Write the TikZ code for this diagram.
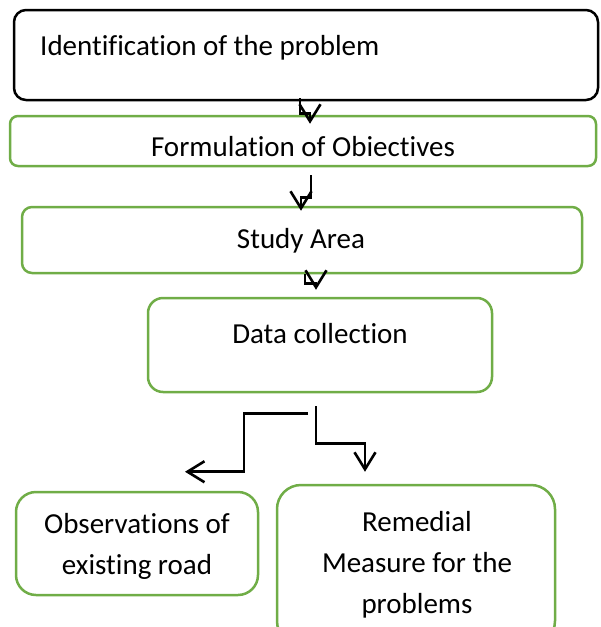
\documentclass[tikz,border=0pt]{standalone}
\usepackage{fontspec}
\setmainfont{Carlito}[Ligatures=NoCommon]
\usetikzlibrary{arrows.meta}
\definecolor{boxgreen}{HTML}{70AD47}
\tikzset{
	stepbox/.style={draw=boxgreen, line width=2.5pt, inner sep=0pt, rounded corners=#1},
	steptext/.style={font=\fontsize{29}{41}\selectfont, inner sep=0pt, anchor=base, align=center},
	flow/.style={line width=2.6pt, -{Straight Barb[length=17pt,width=21pt,line width=2.6pt]}}
}
\begin{document}
\begin{tikzpicture}[x=1pt,y=-1pt]
			\useasboundingbox (0,0) rectangle (601,627);
			\clip (0,0) rectangle (601,627);
			% boxes
			\node[stepbox=12pt, draw=black, minimum width=584pt, minimum height=90pt] (ident) at (306,55) {};
			\node[stepbox=8pt, minimum width=586pt, minimum height=50pt] (obj) at (303,141) {};
			\node[stepbox=10pt, minimum width=560pt, minimum height=66pt] (study) at (302,240) {};
			\node[stepbox=15pt, minimum width=344pt, minimum height=94pt] (data) at (320,345) {};
			\node[stepbox=20pt, minimum width=242pt, minimum height=103pt] (obs) at (137,543.5) {};
			\node[stepbox=24pt, minimum width=278pt, minimum height=160pt] (remedy) at (416,565) {};
			% texts (base = last line)
			\node[steptext, anchor=base west] (identtext) at (40,55) {Identification of the problem};
			\node[steptext] (objtext) at (303,156) {Formulation of Obiectives};
			\node[steptext] (studytext) at (301,248) {Study Area};
			\node[steptext] (datatext) at (320,343) {Data collection};
			\node[steptext] (obstext) at (137,574) {Observations of\\existing road};
			\node[steptext] (remedytext) at (417,613) {Remedial\\Measure for the\\problems};
			% connectors
			\draw[flow] ([xshift=-6pt,yshift=3pt]ident.south) -- ++(0,15) -| ([xshift=7pt,yshift=-9pt]obj.north);
			\draw[flow] ([xshift=8pt,yshift=-8pt]obj.south) -- ++(0,22) -| ([xshift=-1pt,yshift=-5pt]study.north);
			\draw[flow] ([xshift=3pt]study.south) -- ++(0,9) -| ([xshift=-4pt,yshift=7pt]data.north);
			\draw[flow] ([xshift=-12pt,yshift=-20pt]data.south) -- ++(-64,0) |- ([xshift=48pt,yshift=19pt]obs.north);
			\draw[flow] ([xshift=-4pt,yshift=-13pt]data.south) -- ++(0,37) -| ([xshift=-51pt,yshift=12pt]remedy.north);
		\end{tikzpicture}
\end{document}
